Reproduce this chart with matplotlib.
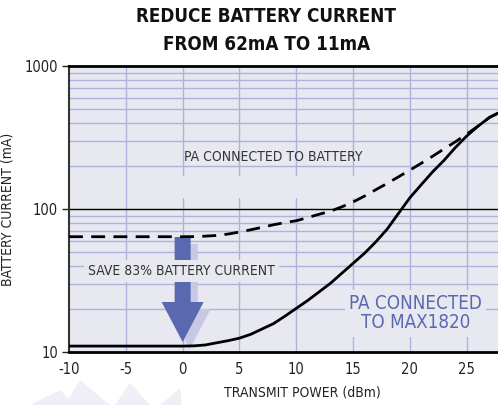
import matplotlib
matplotlib.use("Agg")
import matplotlib.pyplot as plt
from matplotlib.patches import Polygon, Rectangle
from matplotlib.ticker import FixedLocator, NullFormatter

# ---- data ----
x_battery = [-10, -5, 0, 1, 2, 3, 4, 5, 6, 7, 8, 9, 10, 11, 12, 13, 14, 15, 16, 17, 18,
             19, 20, 21, 22, 23, 24, 25, 26, 27, 27.75]
i_battery = [64, 64, 64, 64.1, 64.6, 65.3, 66.8, 69, 71.6, 74.5, 77.6, 80.4, 82.8, 87.1,
             91.8, 96.6, 103.5, 112, 123, 136.5, 151, 168, 187, 209, 234, 263, 295, 334,
             380, 437, 468]
x_max1820 = [-10, -5, 0, 1, 2, 3, 4, 5, 6, 7, 8, 9, 10, 11, 12, 13, 14, 15, 16, 17, 18,
             19, 20, 21, 22, 23, 24, 25, 26, 27, 27.75]
i_max1820 = [11, 11, 11, 11.04, 11.2, 11.6, 12.0, 12.5, 13.3, 14.5, 15.8, 17.8, 20.2, 22.9,
             26.3, 30.2, 35.5, 41.7, 49, 58.9, 72.4, 93.3, 120, 148, 182, 219, 269, 324,
             380, 437, 468]
xticks = [-10, -5, 0, 5, 10, 15, 20, 25]
yticks = [10, 100, 1000]
ytick_labels = ["10", "100", "1000"]

BG = "#E8E8F1"
GRID = "#AEB2DC"
BLUE = "#5A69AF"
SHADOW = "#C6C8E4"
plt.rcParams["font.family"] = ["DejaVu Sans"]
plt.rcParams["font.stretch"] = "condensed"

fig = plt.figure(figsize=(4.98, 4.05), dpi=100)
ax = fig.add_axes([69 / 498, 53 / 405, 429 / 498, 286 / 405])
ax.set_facecolor(BG)
ax.set_yscale("log")
ax.set_xlim(-10, 27.75)
ax.set_ylim(10, 1000)

# gridlines
for v in [20, 30, 40, 50, 60, 70, 80, 90, 200, 300, 400, 500, 600, 700, 800, 900]:
    ax.axhline(v, color=GRID, lw=1.0, zorder=1)
for v in xticks[1:]:
    ax.axvline(v, color=GRID, lw=1.0, zorder=1)
ax.axhline(100, color="black", lw=1.0, zorder=2)

# background band that interrupts vertical gridlines
y_lo = 10 ** (1 + (352 - 198) / 143)
y_hi = 10 ** (1 + (352 - 176) / 143)
ax.add_patch(Rectangle((-0.3, y_lo), 17.5, y_hi - y_lo,
                       facecolor=BG, edgecolor="none", zorder=1.5))

ax.set_xticks(xticks)
ax.set_xticklabels([str(t) for t in xticks])
ax.yaxis.set_major_locator(FixedLocator(yticks))
ax.set_yticklabels(ytick_labels)
ax.yaxis.set_minor_formatter(NullFormatter())
ax.tick_params(axis="y", which="minor", length=0)
ax.tick_params(axis="y", which="major", length=5, width=1, labelsize=10.5, pad=3,
               colors="#222222")
ax.tick_params(axis="x", length=0, labelsize=10.5, pad=7, colors="#222222")

for s in ["top", "bottom"]:
    ax.spines[s].set_linewidth(2)
    ax.spines[s].set_color("black")
ax.spines["left"].set_linewidth(1.5)
ax.spines["left"].set_color("#333333")
ax.spines["right"].set_visible(False)

# arrow (shadow + main)
def arrow_poly(dx_units, dy_px):
    def y_at(px):
        return 10 ** (1 + (352 - (px + dy_px)) / 143)
    sw, hw = 0.705, 1.85
    pts = [(-sw, y_at(237)), (sw, y_at(237)), (sw, y_at(302)), (hw, y_at(302)),
           (0, y_at(342)), (-hw, y_at(302)), (-sw, y_at(302))]
    return [(px + dx_units, py) for px, py in pts]

ax.add_patch(Polygon(arrow_poly(0.62, 7), closed=True, facecolor=SHADOW, edgecolor="none", zorder=3))
ax.add_patch(Polygon(arrow_poly(0, 0), closed=True, facecolor=BLUE, edgecolor="none", zorder=4))

# curves
ax.plot(x_battery, i_battery, color="black", lw=2, ls=(0, (5, 3)), zorder=5)
ax.plot(x_max1820, i_max1820, color="black", lw=2, zorder=5)

# annotations
ax.text(8.0, 231, "PA CONNECTED TO BATTERY", ha="center", va="center", fontsize=10,
        color="#333333", zorder=3)
ax.text(-8.3, 36.8, "SAVE 83% BATTERY CURRENT", ha="left", va="center", fontsize=10,
        color="#333333", zorder=6,
        bbox=dict(facecolor=BG, edgecolor="none", pad=3))
ax.text(20.5, 18.6, "PA CONNECTED\nTO MAX1820", ha="center", va="center", fontsize=13.5,
        color=BLUE, linespacing=1.0, zorder=3,
        bbox=dict(facecolor=BG, edgecolor="none", pad=3))

ax.set_xlabel("TRANSMIT POWER (dBm)", fontsize=10, color="#222222")
ax.xaxis.set_label_coords((302 - 69) / 429, -(386 - 352) / 286)
ax.set_ylabel("BATTERY CURRENT (mA)", fontsize=10, color="#222222")
ax.yaxis.set_label_coords(-(69 - 15) / 429, 0.5)

fig.text(0.535, 1 - 17 / 405, "REDUCE BATTERY CURRENT", ha="center", va="center",
         fontsize=13.5, fontweight="bold", color="#111111")
fig.text(0.535, 1 - 45 / 405, "FROM 62mA TO 11mA", ha="center", va="center",
         fontsize=13.5, fontweight="bold", color="#111111")

# faint watermark at bottom
WM = "#EFEFF7"
for tri in [[(30, 405), (60, 390), (75, 405)],
            [(65, 405), (80, 380), (110, 405)],
            [(115, 405), (130, 383), (150, 405)],
            [(160, 405), (180, 388), (182, 405)]]:
    fig.patches.append(Polygon([(x / 498, 1 - y / 405) for x, y in tri], closed=True,
                               transform=fig.transFigure, facecolor=WM, edgecolor="none",
                               zorder=0))

fig.savefig("out.png", dpi=100, facecolor="white")
